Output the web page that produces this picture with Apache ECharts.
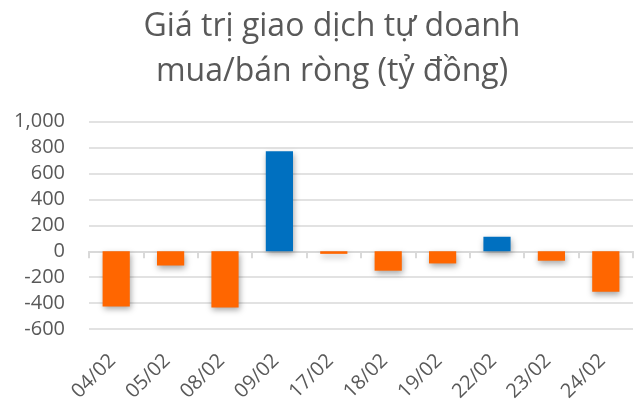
<!DOCTYPE html>
<html><head><meta charset="utf-8">
<script src="https://cdn.jsdelivr.net/npm/echarts@6/dist/echarts.min.js"></script>
<style>html,body{margin:0;padding:0;background:#fff}#c{width:640px;height:406px}</style>
</head><body><div id="c"></div>
<script>
const categories = ['04/02','05/02','08/02','09/02','17/02','18/02','19/02','22/02','23/02','24/02'];
const values = [-426, -110, -434, 771, -20, -150, -94, 112, -73, -313];
const yTicks = [-600, 1000, 200];
const titleText = 'Giá trị giao dịch tự doanh\nmua/bán ròng (tỷ đồng)';

const chart = echarts.init(document.getElementById('c'));
chart.setOption({
  animation: false,
  title: {
    text: titleText, left: 327, top: -1, textAlign: 'center',
    textStyle: { fontFamily: 'Open Sans', fontSize: 32, fontWeight: 'normal', color: '#595959', lineHeight: 45 }
  },
  grid: { left: 89, right: 7, top: 121.7, bottom: 406 - 329 },
  xAxis: [{
    type: 'category', data: categories,
    axisLine: { onZero: true, lineStyle: { color: '#d9d9d9', width: 2 } },
    axisTick: { show: true, lineStyle: { color: '#d9d9d9', width: 2 }, length: 7 },
    axisLabel: { show: false }
  }, {
    type: 'category', data: categories, position: 'bottom',
    axisLine: { show: false }, axisTick: { show: false },
    axisLabel: { show: true, rotate: 45, fontFamily: 'Open Sans', fontSize: 20, color: '#595959', margin: 25, padding: [0, 5, 0, 0] }
  }],
  yAxis: {
    type: 'value', min: yTicks[0], max: yTicks[1], interval: yTicks[2],
    axisLine: { show: false }, axisTick: { show: false },
    splitLine: { lineStyle: { color: '#d9d9d9', width: 1.5 } },
    axisLabel: { fontFamily: 'Open Sans', fontSize: 20, color: '#595959', margin: 24,
      formatter: v => v.toLocaleString('en-US') }
  },
  series: [
    {
      type: 'bar', xAxisIndex: 0,
      data: values.map(v => ({ value: v, itemStyle: { color: v >= 0 ? '#0070C0' : '#FF6600' } })),
      barWidth: '50%',
      itemStyle: { shadowColor: 'rgba(0,0,0,0.35)', shadowBlur: 6, shadowOffsetY: 3, shadowOffsetX: 1 }
    }
  ]
});
</script></body></html>
